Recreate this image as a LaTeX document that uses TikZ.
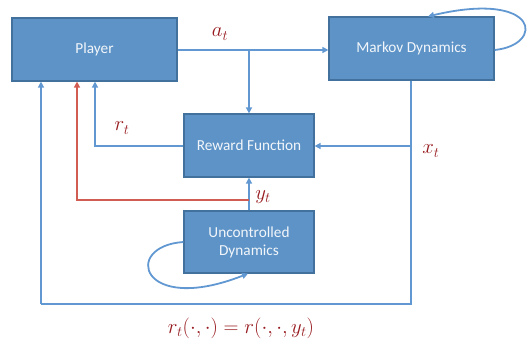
\documentclass[tikz,border=0pt]{standalone}
\usepackage{fontspec}
\setsansfont{Carlito}
\usetikzlibrary{arrows.meta}
\definecolor{boxfill}{RGB}{93,147,199}
\definecolor{boxedge}{RGB}{65,113,156}
\definecolor{lineblue}{RGB}{98,152,210}
\definecolor{linered}{RGB}{208,92,82}
\definecolor{lbl}{RGB}{150,25,30}
\begin{document}
\begin{tikzpicture}[x=1pt,y=-1pt,
  blockbox/.style={draw=boxedge,line width=1.2pt,fill=boxfill,text=white!92!boxfill,font=\sffamily\fontsize{15.3}{18}\selectfont,align=center,inner sep=0pt},
  conn/.style={draw=lineblue,line width=1.8pt,-{Triangle[length=6pt,width=6pt]}},
  plain/.style={draw=lineblue,line width=1.8pt},
  redconn/.style={draw=linered,line width=1.8pt,-{Triangle[length=6pt,width=6pt]}},
  lab/.style={text=lbl,font=\fontsize{20}{24}\selectfont}]
\useasboundingbox (0,0) rectangle (530,347);
\node[blockbox,minimum width=165pt,minimum height=63pt] (player) at (94.5,49.5) {Player};
\node[blockbox,minimum width=165pt,minimum height=63pt] (markov) at (411.5,48.5) {Markov Dynamics};
\node[blockbox,minimum width=130pt,minimum height=63pt] (reward) at (249,145.5) {Reward Function};
\node[blockbox,minimum width=130pt,minimum height=62pt] (unc) at (249,242) {Uncontrolled\\Dynamics};
\coordinate (br) at (249,50);
\coordinate (xs) at (411,146);
\coordinate (bl) at (41,304);
\coordinate (brr) at (411,304);
\coordinate (rl) at (95,146);
\coordinate (ry) at (249,200);
\coordinate (rr) at (77,200);
% a_t
\draw[conn] (player.east |- br) -- (markov.west |- br);
\draw[conn] (br) -- (reward.north);
% Markov down
\draw[plain] (markov.south -| xs) -- (brr) -- (bl);
\draw[conn] (bl) -- (bl |- player.south);
\draw[conn] (xs) -- (reward.east |- xs);
% r_t
\draw[conn] (reward.west |- rl) -- (rl) -- (rl |- player.south);
% y_t
\draw[conn] (unc.north) -- (reward.south);
\draw[redconn] (ry) -- (rr) -- (rr |- player.south);
% self loops
\draw[conn] (markov.east |- 0,50) .. controls (545,45) and (540,-10) .. (markov.north -| 428,0);
\draw[conn] (unc.west |- 0,242) .. controls (122,246) and (140,316) .. (unc.south -| 248,0);
% labels
\node[lab] (at) at (220,34) {$a_t$};
\node[lab] (rt) at (122,128) {$r_t$};
\node[lab] (xt) at (431,151) {$x_t$};
\node[lab] (yt) at (263,197) {$y_t$};
\node[lab,font=\fontsize{22}{26}\selectfont] (eq) at (241,328) {$r_t(\cdot,\cdot)=r(\cdot,\cdot,y_t)$};
\end{tikzpicture}
\end{document}
